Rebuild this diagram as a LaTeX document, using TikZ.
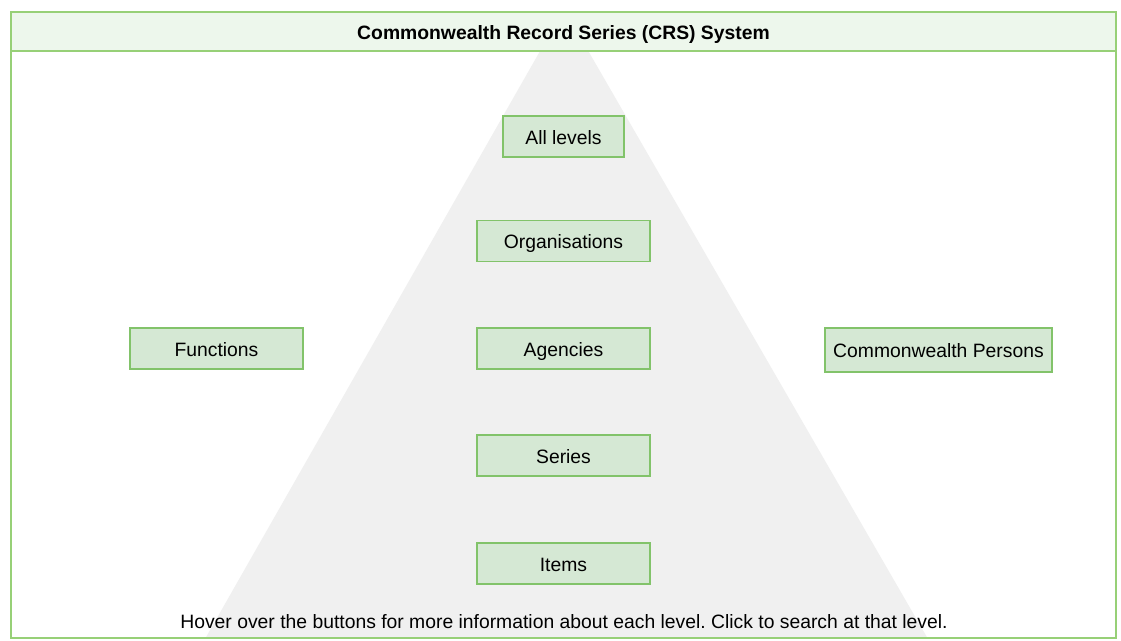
\documentclass[tikz,border=0pt]{standalone}
\usepackage{fontspec}
\setmainfont{Liberation Sans}
\frenchspacing
\definecolor{framegreen}{HTML}{97D077}
\definecolor{headfill}{HTML}{EDF7EC}
\definecolor{boxfill}{HTML}{D5E8D4}
\definecolor{boxline}{HTML}{82C36A}
\definecolor{trifill}{HTML}{F0F0F0}
\begin{document}
\begin{tikzpicture}[x=0.75pt,y=-0.75pt,
  levelbox/.style={draw=boxline,fill=boxfill,line width=1pt,inner sep=0pt,
    minimum height=41*0.75pt,text height=14.4pt,text depth=2.4pt,
    font=\fontsize{14.5pt}{17pt}\selectfont},
  txt/.style={inner sep=0pt,text height=14.4pt,text depth=2.4pt,
    font=\fontsize{14.5pt}{17pt}\selectfont}]
\useasboundingbox[fill=white] (0,0) rectangle (1121,641);
% frame body
\coordinate (fTL) at (11,12);
\coordinate (fBR) at (1116,638);
\fill[white] (fTL) rectangle (fBR);
% pyramid
\begin{scope}
\clip (11,51) rectangle (1116,638);
\fill[trifill] (564,9) -- (205,639) -- (928,639) -- cycle;
\end{scope}
% header
\fill[headfill] (11,12) rectangle (1116,51);
\draw[framegreen,line width=2pt] (11,51) -- (1116,51);
\draw[framegreen,line width=2pt] (fTL) rectangle (fBR);
\node[txt,font=\fontsize{14.5pt}{17pt}\selectfont\bfseries] (title) at (563.5,31.5) {Commonwealth Record Series (CRS) System};
% level boxes
\node[levelbox,minimum width=121*0.75pt] (all) at (563.5,136.5) {All levels};
\node[levelbox,minimum width=173*0.75pt] (org) at (563.5,241) {Organisations};
\node[levelbox,minimum width=173*0.75pt] (agc) at (563.5,348.5) {Agencies};
\node[levelbox,minimum width=173*0.75pt] (ser) at (563.5,455.5) {Series};
\node[levelbox,minimum width=173*0.75pt] (itm) at (563.5,563.5) {Items};
\node[levelbox,minimum width=173*0.75pt] (fun) at (216.5,348.5) {Functions};
\node[levelbox,minimum width=227*0.75pt,minimum height=44*0.75pt] (per) at (938.5,350) {Commonwealth Persons};
\node[txt] (hint) at (564,620) {Hover over the buttons for more information about each level. Click to search at that level.};
\end{tikzpicture}
\end{document}
